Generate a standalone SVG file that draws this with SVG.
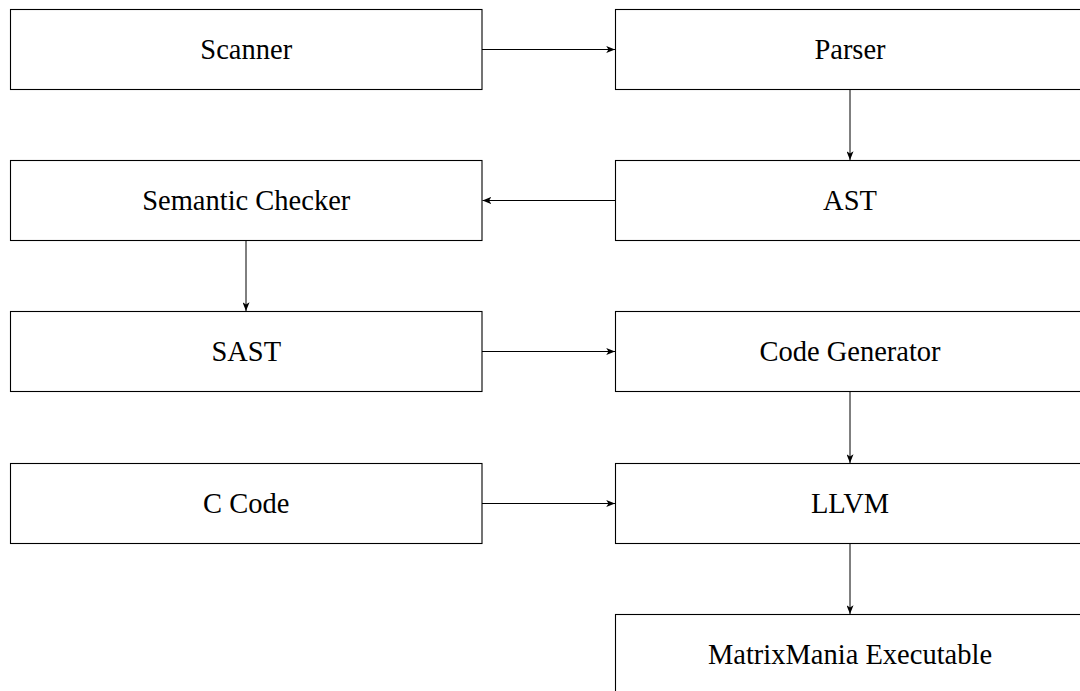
<svg xmlns="http://www.w3.org/2000/svg" width="1080" height="691" viewBox="0 0 1080 691">
<style>
.box{fill:#fff;stroke:#000;stroke-width:1.1}
.lbl{font-family:"Liberation Serif","DejaVu Serif",serif;font-size:28.5px;fill:#000;text-anchor:middle;dominant-baseline:central}
.edge{stroke:#000;stroke-width:1;fill:none;marker-end:url(#ah)}
</style>
<defs>
<marker id="ah" viewBox="0 0 10 8" refX="10" refY="4" markerWidth="9" markerHeight="7" markerUnits="userSpaceOnUse" orient="auto">
<path d="M0,0 L10,4 L0,8 L2.5,4 Z" fill="#000"/>
</marker>
</defs>
<rect width="1080" height="691" fill="#fff"/>
<g id="scanner"><rect class="box" x="10.5" y="9.5" width="471.5" height="80"/><text class="lbl" x="246.25" y="49.5">Scanner</text></g>
<g id="parser"><rect class="box" x="615.5" y="9.5" width="469" height="80"/><text class="lbl" x="850" y="49.5">Parser</text></g>
<g id="semantic"><rect class="box" x="10.5" y="160.5" width="471.5" height="80"/><text class="lbl" x="246.25" y="200.5">Semantic Checker</text></g>
<g id="ast"><rect class="box" x="615.5" y="160.5" width="469" height="80"/><text class="lbl" x="850" y="200.5">AST</text></g>
<g id="sast"><rect class="box" x="10.5" y="311.5" width="471.5" height="80"/><text class="lbl" x="246.25" y="351.5">SAST</text></g>
<g id="codegen"><rect class="box" x="615.5" y="311.5" width="469" height="80"/><text class="lbl" x="850" y="351.5">Code Generator</text></g>
<g id="ccode"><rect class="box" x="10.5" y="463.5" width="471.5" height="80"/><text class="lbl" x="246.25" y="503.5">C Code</text></g>
<g id="llvm"><rect class="box" x="615.5" y="463.5" width="469" height="80"/><text class="lbl" x="850" y="503.5">LLVM</text></g>
<g id="exe"><rect class="box" x="615.5" y="614.5" width="469" height="80"/><text class="lbl" x="850" y="654.5">MatrixMania Executable</text></g>
<g id="connectors">
<line class="edge" x1="482" y1="49.5" x2="615" y2="49.5"/>
<line class="edge" x1="850" y1="89.5" x2="850" y2="160"/>
<line class="edge" x1="615.5" y1="200.5" x2="482.5" y2="200.5"/>
<line class="edge" x1="246" y1="240.5" x2="246" y2="311"/>
<line class="edge" x1="482" y1="351.5" x2="615" y2="351.5"/>
<line class="edge" x1="850" y1="391.5" x2="850" y2="463"/>
<line class="edge" x1="482" y1="503.5" x2="615" y2="503.5"/>
<line class="edge" x1="850" y1="543.5" x2="850" y2="614"/>
</g>
</svg>
